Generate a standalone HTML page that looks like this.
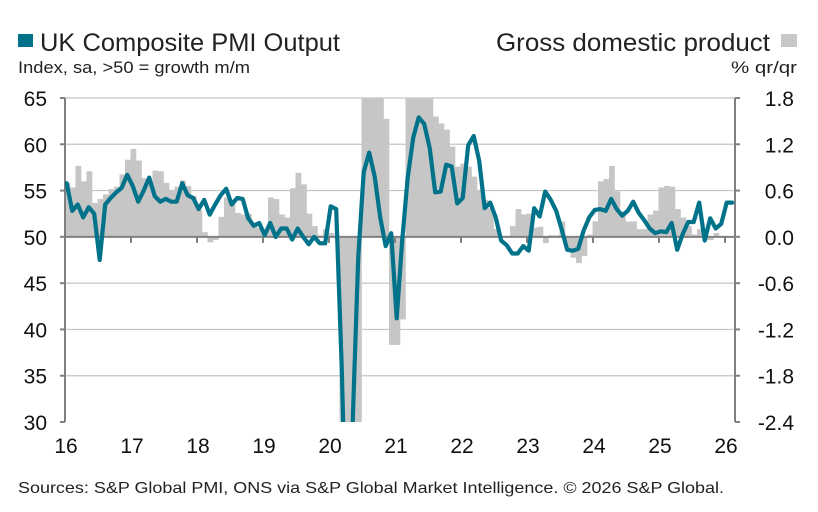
<!DOCTYPE html>
<html><head><meta charset="utf-8"><style>
html,body{margin:0;padding:0;background:#fff;overflow:hidden;}
body{width:818px;height:512px;overflow:hidden;font-family:"Liberation Sans",Arial,sans-serif;}
svg{display:block;}
svg text{font-family:"Liberation Sans Narrow","Liberation Sans",Arial,sans-serif;}
</style></head><body>
<svg id="chart" width="818" height="512" xmlns="http://www.w3.org/2000/svg">
  <rect x="18" y="34" width="15" height="13" fill="#00738a"/>
  <text x="40" y="51" font-size="25" fill="#222" textLength="300" lengthAdjust="spacingAndGlyphs">UK Composite PMI Output</text>
  <text x="18" y="73" font-size="16.5" fill="#222" textLength="232" lengthAdjust="spacingAndGlyphs">Index, sa, &gt;50 = growth m/m</text>
  <text x="770" y="51" font-size="25" fill="#222" text-anchor="end" textLength="274" lengthAdjust="spacingAndGlyphs">Gross domestic product</text>
  <rect x="781" y="34" width="16" height="13" fill="#c8c8c8"/>
  <text x="797" y="73" font-size="16.5" fill="#222" text-anchor="end" textLength="66" lengthAdjust="spacingAndGlyphs">% qr/qr</text>
  <g id="grid"></g>
  <g id="bars"></g>
  <g id="axes"></g>
  <g id="line"></g>
  <g id="labels"></g>
  <text x="18" y="493" font-size="16" fill="#222" font-family="Liberation Sans, sans-serif" textLength="706" lengthAdjust="spacingAndGlyphs">Sources: S&amp;P Global PMI, ONS via S&amp;P Global Market Intelligence. © 2026 S&amp;P Global.</text>
</svg>
<script>
const yearLabels = ["16","17","18","19","20","21","22","23","24","25","26"];
const leftTicks = [65,60,55,50,45,40,35,30];
const rightTicks = ["1.8","1.2","0.6","0.0","-0.6","-1.2","-1.8","-2.4"];
const pmiValues = [55.8,52.8,53.5,52.1,53.2,52.5,47.5,53.5,54.2,54.8,55.3,56.7,
55.5,53.8,55.0,56.4,54.4,53.8,54.1,53.8,53.8,55.8,54.5,54.2,
53.0,54.0,52.4,53.5,54.5,55.2,53.5,54.2,54.1,52.0,51.2,51.5,
50.2,51.5,50.0,50.9,50.9,49.7,50.9,50.0,49.2,50.0,49.3,49.3,
53.3,53.0,36.0,13.8,30.0,47.7,57.0,59.1,56.5,52.1,49.0,50.4,
41.2,49.6,56.4,60.7,62.9,62.2,59.6,54.8,54.9,57.8,57.6,53.6,
54.2,59.9,60.9,58.2,53.1,53.7,52.1,49.6,49.1,48.2,48.2,49.0,
48.5,53.1,52.2,54.9,54.0,52.8,50.8,48.6,48.5,48.7,50.7,52.1,
52.9,53.0,52.8,54.1,53.0,52.3,52.8,53.8,52.6,51.8,50.9,50.4,
50.6,50.5,51.5,48.6,50.3,51.6,51.6,53.7,49.6,52.0,50.9,51.4,
53.7,53.7];
const gdpValues = [0.70,0.64,0.92,0.72,0.85,0.44,0.49,0.55,0.62,0.65,0.81,1.0,
1.14,0.99,0.76,0.68,0.86,0.85,0.70,0.61,0.65,0.73,0.66,0.53,
0.35,0.06,-0.07,-0.04,0.26,0.51,0.44,0.31,0.29,0.30,0.14,0.12,
0.10,0.51,0.49,0.29,0.25,0.63,0.83,0.68,0.30,0.14,0.02,0.10,
0.05,-0.02,-3,-3,-3,-3,3,3,3,3,1.53,-1.4,
-1.4,-1.07,3,3,3,3,3,1.56,1.47,1.39,1.17,0.91,
0.95,0.91,0.78,0.61,0.48,0.37,0.10,0.01,-0.01,0.14,0.36,0.29,
0.30,0.12,0.13,-0.08,0.02,0.02,0.2,-0.16,-0.27,-0.34,-0.25,0.03,
0.2,0.72,0.75,0.92,0.59,0.33,0.2,0.2,0.1,0.1,0.29,0.34,
0.64,0.66,0.65,0.36,0.25,0.14,0.03,0.1,-0.04,-0.04,0.05];

const NS="http://www.w3.org/2000/svg";
const X0=65, X1=735, YT=98, YB=422, MONTH=5.5;
const xYear = i => X0 + i*66;
const xMonth = j => X0 + j*MONTH;
const yL = v => YT + (65-v)/35*(YB-YT);
const yR = v => YT + (1.8-v)/4.2*(YB-YT);
function mk(tag, attrs, parent){const e=document.createElementNS(NS,tag);for(const k in attrs)e.setAttribute(k,attrs[k]);parent.appendChild(e);return e;}
const grid=document.getElementById('grid'), bars=document.getElementById('bars'), axes=document.getElementById('axes'), line=document.getElementById('line'), labels=document.getElementById('labels');

const defs=mk('defs',{},document.getElementById('chart'));
const cp=mk('clipPath',{id:'plotclip'},defs);
mk('rect',{x:X0,y:YT,width:X1-X0,height:YB-YT},cp);

leftTicks.forEach((v,i)=>{
  const y=yL(v);
  if(v!==50 && v!==30){
    const g=mk('line',{x1:X0,x2:X1,y1:y,y2:y,stroke:'#c4c4c4','stroke-width':1.2},grid);
    
    
  }
  const t=mk('text',{x:47,y:y+8,'font-size':21,'text-anchor':'end',fill:'#111'},labels);
  t.textContent=v;
  
  
  const tk=mk('line',{x1:X0-5,x2:X0,y1:y,y2:y,stroke:'#808080','stroke-width':2},axes);
  
  
  const tr=mk('line',{x1:X1,x2:X1+5,y1:y,y2:y,stroke:'#808080','stroke-width':2},axes);
  
  
  const rt=mk('text',{x:794,y:y+8,'font-size':21,'text-anchor':'end',fill:'#111'},labels);
  rt.textContent=rightTicks[i];
  
  
});

const bg=mk('g',{'clip-path':'url(#plotclip)'},bars);
gdpValues.forEach((v,j)=>{
  const x=xMonth(j)-0.5, y0=yR(0);
  const y1=Math.max(YT-4, Math.min(YB+4, yR(v)));
  const r=mk('rect',{x:x,y:Math.min(y0,y1),width:MONTH+0.3,height:Math.abs(y1-y0),fill:'#c6c6c6'},bg);
  
  
});

const zl=mk('line',{x1:X0,x2:X1,y1:yL(50),y2:yL(50),stroke:'#808080','stroke-width':2},axes);


const la=mk('line',{x1:X0,x2:X0,y1:YT,y2:YB,stroke:'#808080','stroke-width':2},axes);


const ra=mk('line',{x1:X1,x2:X1,y1:YT,y2:YB,stroke:'#808080','stroke-width':2},axes);



yearLabels.forEach((lab,i)=>{
  const x=xYear(i);
  if(i>0){
    const tk=mk('line',{x1:x,x2:x,y1:yL(50),y2:yL(50)+6,stroke:'#808080','stroke-width':2},axes);
    
    
  }
  const t=mk('text',{x:x+1,y:453,'font-size':21,'text-anchor':'middle',fill:'#111'},labels);
  t.textContent=lab;
  
  
});

// build the line, cutting segments at the bottom of the plot so nothing extends past the frame
const lg=mk('g',{'clip-path':'url(#plotclip)'},line);
const P=pmiValues.map((v,j)=>[xMonth(j)+1.7, yL(v)]);
const LIM=YB+6;
const out=[];
for(let k=0;k<P.length;k++){
  const [x,y]=P[k];
  if(y<=LIM){ out.push([x,y]); continue; }
  // point below limit: add intersections with neighbours, skip the point itself
  if(k>0 && P[k-1][1]<=LIM){ const [px,py]=P[k-1]; out.push([px+(x-px)*(LIM-py)/(y-py), LIM]); }
  if(k<P.length-1 && P[k+1][1]<=LIM){ const [nx,ny]=P[k+1]; out.push([x+(nx-x)*(y-LIM)/(y-ny), LIM]); }
}
const pts=out.map(p=>p[0].toFixed(1)+','+p[1].toFixed(1)).join(' ');
const pl=mk('polyline',{points:pts,fill:'none',stroke:'#00738a','stroke-width':4.2,'stroke-linejoin':'round','stroke-linecap':'round'},lg);


</script>
</body></html>
